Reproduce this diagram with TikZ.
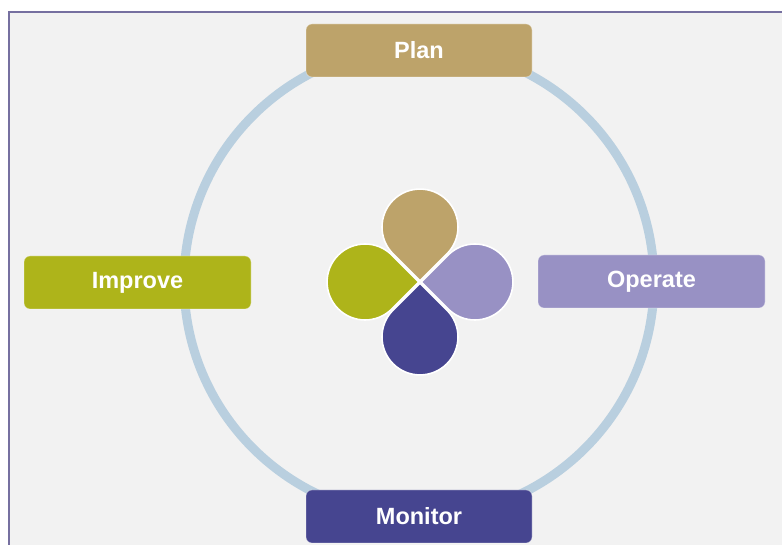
\documentclass[tikz,border=0pt]{standalone}
\usepackage{fontspec}
\setmainfont{Liberation Sans}
\definecolor{bgc}{HTML}{F2F2F2}
\definecolor{framec}{HTML}{7670A0}
\definecolor{ringc}{HTML}{B9CFDF}
\definecolor{planc}{HTML}{BDA36A}
\definecolor{improvec}{HTML}{AEB41A}
\definecolor{operatec}{HTML}{9891C4}
\definecolor{monitorc}{HTML}{464590}
\tikzset{
  stagebox/.style={rounded corners=6pt, minimum width=226pt, minimum height=53pt,
    inner sep=0pt, draw=white, draw opacity=0.35, line width=0.8pt, text=white,
    font=\fontsize{23.5}{27}\selectfont\bfseries},
  petal/.style={draw=white, line width=1.6pt},
}
\begin{document}
\begin{tikzpicture}[x=1pt,y=1pt]
\useasboundingbox (0,0) rectangle (782,545);
\fill[white] (0,0) rectangle (782,545);
\fill[bgc] (9,0) rectangle (782,533);
\draw[framec, line width=2.5pt] (9,0) -- (9,533) -- (782,533);
\coordinate (ctr) at (420,263);
\coordinate (ringctr) at (419,263);
\draw[ringc, line width=9pt] (ringctr) circle[radius=235];
\foreach \ang/\col in {0/planc, 90/improvec, 180/monitorc, -90/operatec}{
  \begin{scope}[shift={(ctr)}, rotate=\ang]
    \filldraw[petal, fill=\col] (0,1.2) -- ++(26.87,26.87) arc[start angle=-45, end angle=225, radius=38] -- cycle;
  \end{scope}
}
\node[stagebox, fill=planc] (plan) at (419,494.5) {Plan};
\node[stagebox, fill=monitorc] (monitor) at (419,28.5) {Monitor};
\node[stagebox, fill=improvec, minimum width=227pt] (improve) at (137.5,262.5) {Improve};
\node[stagebox, fill=operatec, minimum width=227pt] (operate) at (651.5,263.5) {Operate};
\end{tikzpicture}
\end{document}
